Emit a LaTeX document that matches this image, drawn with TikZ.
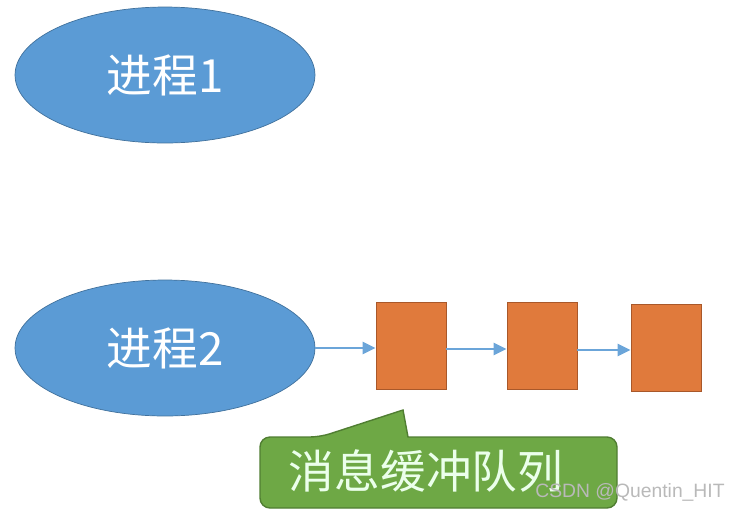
\documentclass[tikz,border=0pt]{standalone}
\usepackage{fontspec}
\setmainfont{Noto Sans CJK SC}
\newfontfamily\wmfont{Liberation Sans}
\usetikzlibrary{shapes.geometric,arrows.meta}
\definecolor{procblue}{HTML}{5B9BD5}
\definecolor{procline}{HTML}{41719C}
\definecolor{bufred}{HTML}{E07A3C}
\definecolor{bufline}{HTML}{A9582A}
\definecolor{notegreen}{HTML}{6EA845}
\definecolor{noteline}{HTML}{507E32}
\tikzset{
  proc/.style={ellipse,draw=procline,fill=procblue,text=white,minimum width=6cm,minimum height=2.72cm,inner sep=0pt,font=\fontsize{26}{30}\selectfont},
  buf/.style={draw=bufline,fill=bufred,minimum width=1.4cm,minimum height=1.74cm,inner sep=0pt},
  link/.style={-{Triangle[length=0.26cm,width=0.24cm]},draw=procblue!90,line width=1.5pt},
}
\begin{document}
\begin{tikzpicture}[x=0.02cm,y=-0.02cm]
\useasboundingbox (0,0) rectangle (734,512);
% processes
\node[proc] (p1) at (165,75) {进程1};
\node[proc] (p2) at (165,348) {进程2};
% buffer queue
\node[buf] (q1) at (411,346) {};
\node[buf] (q2) at (542,346) {};
\node[buf] (q3) at (666,348) {};
\draw[link] (p2.east) -- (q1.west |- p2.east);
\draw[link] (q1.east |- 0,349) -- (q2.west |- 0,349);
\draw[link] (q2.east |- 0,350) -- (q3.west |- 0,350);
% callout
\draw[fill=notegreen,draw=noteline,line width=0.8pt] (260,470) [rounded corners=0.2cm] |- (320,437) [sharp corners] -- (403,410) -- (408,437) [rounded corners=0.2cm] -- (617,437) |- (260,508) -- cycle;
\node[text=green!8,font=\fontsize{26}{30}\selectfont] (msg) at (426,471) {消息缓冲队列};
\node[text=gray!55,font=\wmfont\fontsize{11}{13}\selectfont] (wm) at (630,492) {CSDN @Quentin\_HIT};
\end{tikzpicture}
\end{document}
